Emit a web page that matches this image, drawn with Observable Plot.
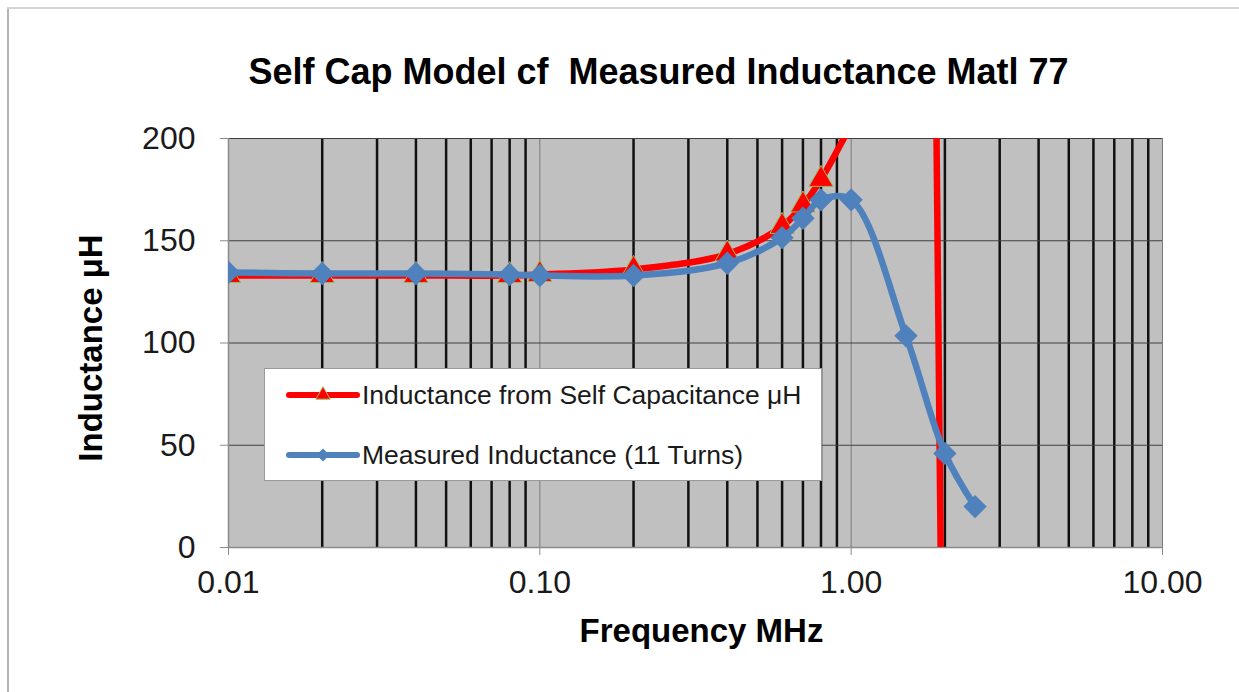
<!DOCTYPE html>
<html>
<head>
<meta charset="utf-8">
<script src="https://cdn.jsdelivr.net/npm/d3@7"></script>
<script src="https://cdn.jsdelivr.net/npm/@observablehq/plot@0.6"></script>
<style>
  html, body { margin: 0; padding: 0; background: #fff; }
  #wrap { position: relative; width: 1239px; height: 692px; overflow: hidden; font-family: "Liberation Sans", Arial, sans-serif; }
  #frameL { position: absolute; left: 7px; top: 7px; width: 2px; height: 700px; background: #b4b4b4; }
  #frameT { position: absolute; left: 7px; top: 7px; width: 1240px; height: 2px; background: #d4d4d4; }
  #chart { position: absolute; left: 0; top: 0; }
  #legend { position: absolute; left: 264px; top: 368px; width: 558px; height: 113px; background: #fff; border: 1px solid #9a9a9a; box-sizing: border-box; }
  .row { position: absolute; left: 0; height: 40px; display: flex; align-items: center; }
  .row svg { display: block; }
  .row span { font-size: 26.5px; color: #1a1a1a; margin-left: 1px; white-space: nowrap; }
</style>
</head>
<body>
<div id="wrap">
  <div id="chart"></div>
  <div id="frameL"></div>
  <div id="frameT"></div>
  <div id="legend"></div>
</div>
<script>
// ---- data ----
const freqMHz = [0.01, 0.02, 0.04, 0.08, 0.1, 0.2, 0.4, 0.6, 0.7, 0.8, 1.0, 1.5, 2.0, 2.5];
const selfCapInductance = [133, 133, 133, 133, 133.5, 136, 143.5, 157, 167.5, 180, 207, 1700, -210, -85];
const measuredInductance = [134.5, 134, 134, 133.5, 133, 133, 139, 151.5, 161, 170, 170, 103.5, 46, 20];
const seriesNames = ["Inductance from Self Capacitance \u03bcH", "Measured Inductance (11 Turns)"];
const xTickValues = [0.01, 0.1, 1, 10];
const xTickLabels = ["0.01", "0.10", "1.00", "10.00"];
const xMinorGrid = [0.02, 0.03, 0.04, 0.05, 0.06, 0.07, 0.08, 0.09,
                    0.2, 0.3, 0.4, 0.5, 0.6, 0.7, 0.8, 0.9,
                    2, 3, 4, 5, 6, 7, 8, 9];
const yTickValues = [0, 50, 100, 150, 200];
const chartTitle = "Self Cap Model cf  Measured Inductance Matl 77";
const xLabel = "Frequency MHz";
const yLabel = "Inductance \u03bcH";

const rows = freqMHz.map((f, i) => ({f, self: selfCapInductance[i], meas: measuredInductance[i]}));
const redSmooth = rows.filter(d => d.f <= 1.0);
const redTail = rows.filter(d => d.f >= 1.0);

const RED = "#ff0000", BLUE = "#4f81bd", TRI_STROKE = "#9bbb59";

const chart = Plot.plot({
  width: 1239, height: 692,
  marginLeft: 228, marginRight: 77, marginTop: 138, marginBottom: 145,
  style: {fontFamily: "'Liberation Sans', Arial, sans-serif", background: "transparent", color: "#1a1a1a"},
  x: {type: "log", domain: [0.01, 10]},
  y: {domain: [0, 200]},
  marks: [
    Plot.frame({fill: "#c0c0c0", stroke: null}),
    Plot.ruleX(xMinorGrid, {stroke: "#111", strokeWidth: 2.5}),
    Plot.ruleX(xTickValues, {stroke: "#7a7a7a", strokeWidth: 1}),
    Plot.ruleY(yTickValues, {stroke: "#404040", strokeWidth: 1.2}),
    Plot.ruleY([0], {stroke: "#8a8a8a", strokeWidth: 1.5}),
    Plot.ruleX([0.01], {stroke: "#8a8a8a", strokeWidth: 1.5}),
    Plot.axisX({ticks: xTickValues, tickFormat: d => xTickLabels[xTickValues.indexOf(d)],
      tickSize: 8, tickPadding: 15, fontSize: 32, stroke: "#8a8a8a", label: null}),
    Plot.axisY({ticks: yTickValues, tickSize: 8, tickPadding: 25, fontSize: 32, stroke: "#8a8a8a", label: null}),
    // self-capacitance model
    Plot.line(redSmooth, {x: "f", y: "self", stroke: RED, strokeWidth: 6.5, curve: "catmull-rom", clip: true}),
    Plot.line(redTail, {x: "f", y: "self", stroke: RED, strokeWidth: 6.5, clip: true}),
    Plot.dot(rows, {x: "f", y: "self", symbol: "triangle", r: 9, fill: RED, stroke: TRI_STROKE, strokeWidth: 1, clip: true}),
    // measured
    Plot.line(rows, {x: "f", y: "meas", stroke: BLUE, strokeWidth: 6.5, curve: "catmull-rom", clip: true}),
    Plot.dot(rows, {x: "f", y: "meas", symbol: "diamond2", r: 10.5, fill: BLUE, stroke: null, clip: true}),
    // titles
    Plot.text([chartTitle], {frameAnchor: "top", dx: -37, dy: -66, fontSize: 36, fontWeight: "bold", fill: "#000", lineAnchor: "middle"}),
    Plot.text([xLabel], {frameAnchor: "bottom", dx: 6, dy: 84, fontSize: 33, fontWeight: "bold", fill: "#000", lineAnchor: "middle"}),
    Plot.text([yLabel], {frameAnchor: "left", dx: -137, dy: 5, rotate: -90, textAnchor: "middle", lineAnchor: "middle", fontSize: 33, fontWeight: "bold", fill: "#000"})
  ]
});
document.getElementById("chart").appendChild(chart);

// legend
const legend = document.getElementById("legend");
function sample(color, symbol) {
  const s = d3.create("svg").attr("width", 96).attr("height", 40);
  s.append("line").attr("x1", 24).attr("x2", 92).attr("y1", 20).attr("y2", 20)
    .attr("stroke", color).attr("stroke-width", 6).attr("stroke-linecap", "round");
  s.append("path").attr("transform", "translate(58,20)")
    .attr("d", d3.symbol(symbol, symbol === d3.symbolTriangle ? 90 : 110)())
    .attr("fill", color).attr("stroke", symbol === d3.symbolTriangle ? TRI_STROKE : "none");
  return s.node();
}
[[RED, d3.symbolTriangle, 6], [BLUE, d3.symbolDiamond2, 66]].forEach(([c, sym, top], i) => {
  const row = document.createElement("div");
  row.className = "row";
  row.style.top = top + "px";
  row.appendChild(sample(c, sym));
  const t = document.createElement("span");
  t.textContent = seriesNames[i];
  row.appendChild(t);
  legend.appendChild(row);
});
</script>
</body>
</html>
